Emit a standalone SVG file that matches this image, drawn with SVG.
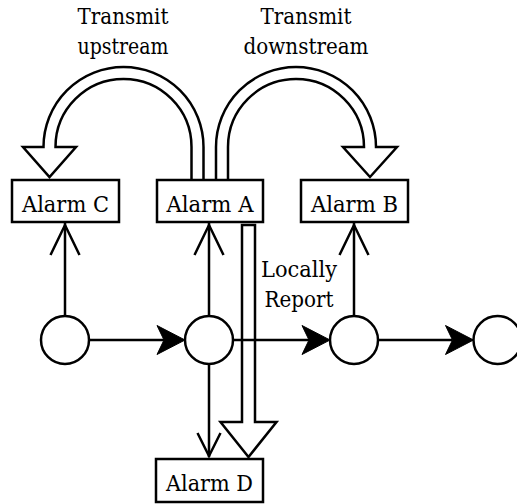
<svg xmlns="http://www.w3.org/2000/svg" width="517" height="504" viewBox="0 0 517 504">
<style>
.box{fill:#fff;stroke:#000;stroke-width:2.5}
.node{fill:#fff;stroke:#000;stroke-width:2.5}
.t{font-family:'DejaVu Serif','Liberation Serif','Times New Roman',serif;font-size:22px;fill:#000;text-anchor:middle}
.ln{fill:none;stroke:#000;stroke-width:2.5}
.open{fill:none;stroke:#000;stroke-width:2.5;stroke-linejoin:miter}
.head{fill:#000;stroke:#000;stroke-width:1}
.flex{fill:#fff;stroke:#000;stroke-width:2.5;stroke-linejoin:miter}
</style>
<rect width="517" height="504" fill="#fff"/>
<g id="connectors">
  <path class="flex" d="M191.5 181 V147 A68 68 0 0 0 55.5 147 H76 L49.5 177 L23 147 H43.5 A80 80 0 0 1 203.5 147 V181 Z"/>
  <path class="flex" d="M216 181 V147 A80 80 0 0 1 376 147 H397 L370 177 L343 147 H364 A68 68 0 0 0 228 147 V181 Z"/>
  <path class="flex" d="M242 225 V422 H220.5 L248.5 457 L276.5 422 H255 V225 Z"/>
  <path class="ln" d="M65 316 V223"/>
  <path class="open" d="M50.5 255 L65 225 L79.5 255"/>
  <path class="ln" d="M209 316 V223"/>
  <path class="open" d="M194.5 255 L209 225 L223.5 255"/>
  <path class="ln" d="M354 316 V223"/>
  <path class="open" d="M339.5 255 L354 225 L368.5 255"/>
  <path class="ln" d="M209 364 V457"/>
  <path class="open" d="M197.5 433 L209 456 L220.5 433"/>
  <path class="ln" d="M89 340 H164"/>
  <path class="head" d="M185 340 L157 325.5 L164 340 L157 354.5 Z"/>
  <path class="ln" d="M233 340 H309"/>
  <path class="head" d="M330 340 L302 325.5 L309 340 L302 354.5 Z"/>
  <path class="ln" d="M378 340 H452.5"/>
  <path class="head" d="M473.5 340 L445.5 325.5 L452.5 340 L445.5 354.5 Z"/>
</g>
<g id="alarmC"><rect class="box" x="12" y="180" width="107" height="42"/><text class="t" x="65.5" y="212" textLength="87" lengthAdjust="spacingAndGlyphs">Alarm C</text></g>
<g id="alarmA"><rect class="box" x="157" y="180" width="106" height="42"/><text class="t" x="210" y="212" textLength="87" lengthAdjust="spacingAndGlyphs">Alarm A</text></g>
<g id="alarmB"><rect class="box" x="301" y="180" width="107" height="42"/><text class="t" x="354.5" y="212" textLength="87" lengthAdjust="spacingAndGlyphs">Alarm B</text></g>
<g id="alarmD"><rect class="box" x="156" y="459" width="107" height="43"/><text class="t" x="209.5" y="491" textLength="87" lengthAdjust="spacingAndGlyphs">Alarm D</text></g>
<g id="n1"><circle class="node" cx="65" cy="340" r="24"/></g>
<g id="n2"><circle class="node" cx="209" cy="340" r="24"/></g>
<g id="n3"><circle class="node" cx="354" cy="340" r="24"/></g>
<g id="n4"><circle class="node" cx="497.5" cy="340" r="24"/></g>
<g id="label-upstream"><text class="t" x="123" y="24" textLength="91" lengthAdjust="spacingAndGlyphs">Transmit</text><text class="t" x="123" y="54" textLength="91" lengthAdjust="spacingAndGlyphs">upstream</text></g>
<g id="label-downstream"><text class="t" x="306" y="24" textLength="91" lengthAdjust="spacingAndGlyphs">Transmit</text><text class="t" x="306" y="54" textLength="125" lengthAdjust="spacingAndGlyphs">downstream</text></g>
<g id="label-local"><text class="t" x="299" y="277" textLength="76" lengthAdjust="spacingAndGlyphs">Locally</text><text class="t" x="299" y="307" textLength="69" lengthAdjust="spacingAndGlyphs">Report</text></g>
</svg>
